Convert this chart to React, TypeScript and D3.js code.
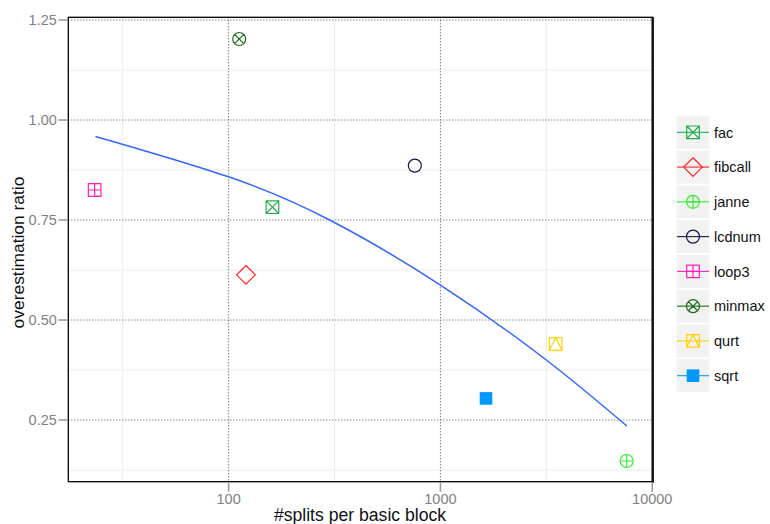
import { useEffect, useRef } from 'react';
import * as d3 from 'd3';

const benchmarks = ['fac', 'fibcall', 'janne', 'lcdnum', 'loop3', 'minmax', 'qurt', 'sqrt'];
const splits = [161, 120.7, 7570, 757, 23.3, 112.2, 3500, 1641];
const ratios = [0.782, 0.613, 0.1475, 0.886, 0.825, 1.2025, 0.44, 0.304];
const shapes = ['squareCross', 'diamond', 'circlePlus', 'circle', 'squarePlus', 'circleCross', 'squareTriangle', 'squareFilled'];
const colors = ['#23ad4a', '#ff2424', '#33ee33', '#16164a', '#ff1fb8', '#1b6a1b', '#ffd200', '#0099ff'];

// smoothed trend
const fitX = [23.5, 100, 300, 1000, 3162, 7586];
const fitY = [0.959, 0.858, 0.75, 0.5875, 0.4, 0.235];

const yTicks = [0.25, 0.5, 0.75, 1.0, 1.25];
const yMinor = [0.125, 0.375, 0.625, 0.875, 1.125];
const xTicks = [100, 1000, 10000];
const xMinor = [Math.pow(10, 1.5), Math.pow(10, 2.5), Math.pow(10, 3.5)];

function markerPath(shape: string) {
  const s = 6.3;
  const r = 6.5;
  const p = d3.path();
  if (shape.startsWith('square')) {
    p.rect(-s, -s, 2 * s, 2 * s);
    if (shape === 'squareCross') {
      p.moveTo(-s, -s); p.lineTo(s, s);
      p.moveTo(s, -s); p.lineTo(-s, s);
    } else if (shape === 'squarePlus') {
      p.moveTo(0, -s); p.lineTo(0, s);
      p.moveTo(-s, 0); p.lineTo(s, 0);
    } else if (shape === 'squareTriangle') {
      p.moveTo(-s, s); p.lineTo(0, -s); p.lineTo(s, s);
    }
  } else if (shape.startsWith('circle')) {
    p.moveTo(r, 0);
    p.arc(0, 0, r, 0, 2 * Math.PI);
    if (shape === 'circlePlus') {
      p.moveTo(0, -r); p.lineTo(0, r);
      p.moveTo(-r, 0); p.lineTo(r, 0);
    } else if (shape === 'circleCross') {
      const k = r * Math.SQRT1_2;
      p.moveTo(-k, -k); p.lineTo(k, k);
      p.moveTo(k, -k); p.lineTo(-k, k);
    }
  } else if (shape === 'diamond') {
    const d = 9.3;
    p.moveTo(0, -d); p.lineTo(d, 0); p.lineTo(0, d); p.lineTo(-d, 0); p.closePath();
  }
  return p.toString();
}

export default function App() {
  const svgRef = useRef<SVGSVGElement>(null);

  useEffect(() => {
    const width = 770;
    const height = 524;
    const left = 68.3, right = 652.7, top = 17.3, bottom = 481.7;

    const svg = d3.select(svgRef.current)
      .attr('width', width)
      .attr('height', height);
    svg.selectAll('*').remove();

    const x = d3.scaleLog().domain([17.5, 10050]).range([left, right]);
    const y = d3.scaleLinear().domain([0.0958, 1.2568]).range([bottom, top]);

    const font = "'Liberation Sans', Arial, sans-serif";

    svg.append('rect')
      .attr('x', 0).attr('y', 0).attr('width', width).attr('height', height)
      .attr('fill', '#fff');

    // minor grid
    svg.selectAll('.ymin').data(yMinor).enter().append('line')
      .attr('x1', left).attr('x2', right)
      .attr('y1', d => y(d)).attr('y2', d => y(d))
      .attr('stroke', '#ececec').attr('stroke-width', 1);
    svg.selectAll('.xmin').data(xMinor).enter().append('line')
      .attr('y1', top).attr('y2', bottom)
      .attr('x1', d => x(d)).attr('x2', d => x(d))
      .attr('stroke', '#ececec').attr('stroke-width', 1);

    // major grid, dotted
    svg.selectAll('.ymaj').data(yTicks).enter().append('line')
      .attr('x1', left).attr('x2', right)
      .attr('y1', d => y(d)).attr('y2', d => y(d))
      .attr('stroke', '#555').attr('stroke-width', 1)
      .attr('stroke-dasharray', '1,2');
    svg.selectAll('.xmaj').data(xTicks).enter().append('line')
      .attr('y1', top).attr('y2', bottom)
      .attr('x1', d => x(d)).attr('x2', d => x(d))
      .attr('stroke', '#444').attr('stroke-width', 1)
      .attr('stroke-dasharray', '1,2');

    // panel border
    svg.append('rect')
      .attr('x', left).attr('y', top)
      .attr('width', right - left).attr('height', bottom - top)
      .attr('fill', 'none').attr('stroke', '#000').attr('stroke-width', 1.3);
    svg.append('line')
      .attr('x1', right).attr('x2', right).attr('y1', top).attr('y2', bottom + 1)
      .attr('stroke', '#111').attr('stroke-width', 2.4);

    // ticks
    svg.selectAll('.yt').data(yTicks).enter().append('line')
      .attr('x1', left - 10).attr('x2', left - 0.6)
      .attr('y1', d => y(d)).attr('y2', d => y(d))
      .attr('stroke', '#999').attr('stroke-width', 1.5);
    svg.selectAll('.ytl').data(yTicks).enter().append('text')
      .attr('x', left - 11.5).attr('y', d => y(d))
      .attr('dy', '0.36em')
      .attr('text-anchor', 'end')
      .attr('font-family', font).attr('font-size', 14.5)
      .attr('fill', '#7f7f7f')
      .text(d => d3.format('.2f')(d));
    svg.selectAll('.xt').data(xTicks).enter().append('line')
      .attr('y1', bottom + 0.6).attr('y2', bottom + 10)
      .attr('x1', d => x(d)).attr('x2', d => x(d))
      .attr('stroke', '#999').attr('stroke-width', 1.5);
    svg.selectAll('.xtl').data(xTicks).enter().append('text')
      .attr('x', d => x(d)).attr('y', 503.5)
      .attr('text-anchor', 'middle')
      .attr('font-family', font).attr('font-size', 14.5)
      .attr('fill', '#7f7f7f')
      .text(d => String(d));

    // axis titles
    svg.append('text')
      .attr('x', 360).attr('y', 521)
      .attr('text-anchor', 'middle')
      .attr('font-family', font).attr('font-size', 17.6)
      .attr('fill', '#111')
      .text('#splits per basic block');
    svg.append('text')
      .attr('transform', `translate(23.5,${(top + bottom) / 2 + 3}) rotate(-90)`)
      .attr('text-anchor', 'middle')
      .attr('font-family', font).attr('font-size', 17.4)
      .attr('fill', '#111')
      .text('overestimation ratio');

    // trend
    const line = d3.line<number>()
      .x((d, i) => x(fitX[i]))
      .y(d => y(d))
      .curve(d3.curveNatural);
    svg.append('path')
      .attr('d', line(fitY))
      .attr('fill', 'none')
      .attr('stroke', '#3366ff')
      .attr('stroke-width', 1.5);

    // points
    benchmarks.forEach((b, i) => {
      const filled = shapes[i] === 'squareFilled';
      svg.append('path')
        .attr('transform', `translate(${x(splits[i])},${y(ratios[i])})`)
        .attr('d', markerPath(shapes[i]))
        .attr('fill', filled ? colors[i] : 'none')
        .attr('stroke', colors[i])
        .attr('stroke-width', filled ? 0 : 1.2);
    });

    // legend
    const lg = svg.append('g');
    benchmarks.forEach((b, i) => {
      const cy = 132.3 + i * 34.77;
      lg.append('rect')
        .attr('x', 676.7).attr('y', cy - 16.5)
        .attr('width', 32.6).attr('height', 33)
        .attr('fill', '#f2f2f2');
      lg.append('line')
        .attr('x1', 677).attr('x2', 709).attr('y1', cy).attr('y2', cy)
        .attr('stroke', colors[i]).attr('stroke-width', 1.1);
      const filled = shapes[i] === 'squareFilled';
      lg.append('path')
        .attr('transform', `translate(693,${cy})`)
        .attr('d', markerPath(shapes[i]))
        .attr('fill', filled ? colors[i] : 'none')
        .attr('stroke', colors[i])
        .attr('stroke-width', filled ? 0 : 1.2);
      lg.append('text')
        .attr('x', 714).attr('y', cy)
        .attr('dy', '0.36em')
        .attr('font-family', font).attr('font-size', 14.5)
        .attr('fill', '#111')
        .text(b);
    });
  }, []);

  return (
    <svg ref={svgRef} style={{ position: 'absolute', left: 0, top: 0 }}></svg>
  );
}
